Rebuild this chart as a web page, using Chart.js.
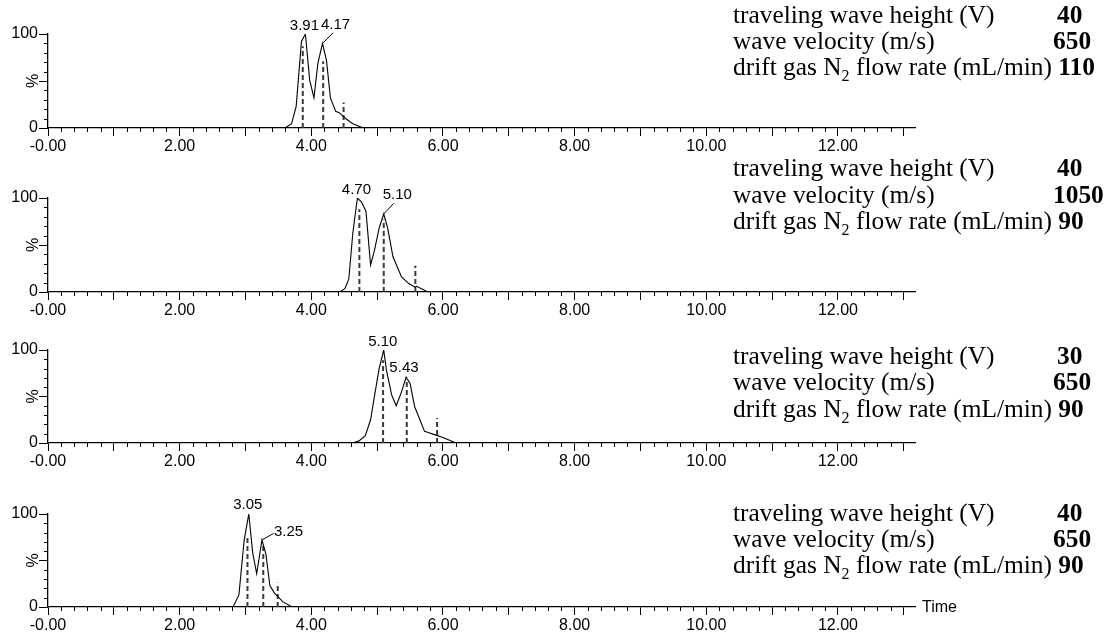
<!DOCTYPE html>
<html><head><meta charset="utf-8">
<script src="https://cdn.jsdelivr.net/npm/chart.js@4.4.1/dist/chart.umd.min.js"></script>
<style>
html,body{margin:0;padding:0;background:#fff;width:1104px;height:635px;overflow:hidden;position:relative}
canvas{position:absolute;left:0}
.row{position:absolute;left:733px;font-family:"Liberation Serif","Times New Roman",serif;font-size:25.4px;line-height:25px;color:#000;white-space:nowrap}
.val{position:absolute;font-family:"Liberation Serif","Times New Roman",serif;font-size:25.4px;line-height:25px;font-weight:bold;color:#000;white-space:nowrap}
.row sub{font-size:16px;line-height:0;vertical-align:baseline;position:relative;top:6px}
.row b{font-weight:bold}
</style></head><body>
<script>
// ---------- data ----------
const xTickLabels = ['-0.00','2.00','4.00','6.00','8.00','10.00','12.00'];
const yTickLabels = ['0','100'];

const time1 = [0, 3.60, 3.70, 3.77, 3.85, 3.91, 3.975, 4.04, 4.10, 4.17, 4.23, 4.29, 4.37, 4.43, 4.51, 4.63, 4.79, 13.1];
const int1  = [0, 0, 4.6, 23, 92, 100, 51, 32, 69, 90, 72, 32, 17.7, 16, 10.6, 4.6, 0, 0];
const markT1 = [3.87, 4.18, 4.49];
const markH1 = [87, 71, 27];
const peakT1 = [3.91, 4.17];
const peakH1 = [100, 90];

const time2 = [0, 4.43, 4.51, 4.57, 4.63, 4.70, 4.76, 4.83, 4.90, 4.96, 5.03, 5.10, 5.16, 5.24, 5.37, 5.48, 5.57, 5.60, 5.77, 13.1];
const int2  = [0, 0, 3.6, 14, 62.5, 100, 96, 86, 28.6, 44.6, 68, 83, 68, 37.5, 16, 9, 5.4, 6, 0, 0];
const markT2 = [4.73, 5.10, 5.58];
const markH2 = [88, 77, 28];
const peakT2 = [4.70, 5.10];
const peakH2 = [100, 83];

const time3 = [0, 4.62, 4.72, 4.82, 4.90, 4.97, 5.03, 5.10, 5.14, 5.22, 5.29, 5.37, 5.44, 5.50, 5.57, 5.64, 5.72, 5.80, 5.87, 5.98, 6.20, 13.1];
const int3  = [0, 0, 2, 8, 25, 55, 80, 100, 78.6, 51.7, 40, 55, 71, 64, 39, 26.6, 12.5, 10.7, 9, 6.4, 0, 0];
const markT3 = [5.09, 5.45, 5.91];
const markH3 = [89, 68, 27];
const peakT3 = [5.10, 5.43];
const peakH3 = [100, 71];

const time4 = [0, 2.81, 2.90, 2.98, 3.05, 3.11, 3.17, 3.25, 3.31, 3.37, 3.44, 3.57, 3.71, 13.1];
const int4  = [0, 0, 13, 72, 100, 58, 36, 72, 57, 23, 15, 5.5, 0, 0];
const markT4 = [3.03, 3.27, 3.49];
const markH4 = [76, 66, 26];
const peakT4 = [3.05, 3.25];
const peakH4 = [100, 72];

const paramNames = ['traveling wave height (V)', 'wave velocity (m/s)', 'drift gas N<sub>2</sub> flow rate (mL/min)'];
const waveHeights = ['40', '40', '30', '40'];
const waveVelocities = ['650', '1050', '650', '650'];
const driftFlows = ['110', '90', '90', '90'];

// ---------- layout / style ----------
const X_MAX = 13.17;
const PAD_TOP = 30, AXIS_H = 30;
const panels = [
  {time: time1, val: int1, markT: markT1, markH: markH1, peakT: peakT1, peakH: peakH1, y100: 34, y0: 128, rows: [23, 49, 75],
   styles: [{dx: -1, dy: -8, align: 'center'}, {leader: [10.5, -10.5], dx: -1.5, dy: -19, align: 'left'}]},
  {time: time2, val: int2, markT: markT2, markH: markH2, peakT: peakT2, peakH: peakH2, y100: 198, y0: 292, rows: [176, 203, 229],
   styles: [{dx: -1, dy: -8, align: 'center'}, {leader: [10, -10.7], dx: -1, dy: -19, align: 'left'}]},
  {time: time3, val: int3, markT: markT3, markH: markH3, peakT: peakT3, peakH: peakH3, y100: 350, y0: 443, rows: [364, 390, 417],
   styles: [{dx: -1, dy: -8, align: 'center'}, {dx: -1.5, dy: -9, align: 'center'}]},
  {time: time4, val: int4, markT: markT4, markH: markH4, peakT: peakT4, peakH: peakH4, y100: 514, y0: 607, rows: [521, 547, 573],
   styles: [{dx: -1, dy: -9, align: 'center'}, {leader: [11.7, -6.7], dx: 12, dy: -8.5, align: 'left'}], timeLabel: true}
];

const SANS = '"Liberation Sans", Arial, sans-serif';

const decor = {
  id: 'decor',
  afterDraw(chart, args, opts) {
    const {ctx, chartArea: a} = chart;
    const x = chart.scales.x, y = chart.scales.y;
    ctx.save();
    ctx.strokeStyle = '#000';
    ctx.lineWidth = 1;
    ctx.beginPath();
    for (let i = 1; i * 0.2 <= X_MAX; i++) {
      const v = i * 0.2;
      if (Math.abs(v - Math.round(v)) < 1e-6) continue;
      const px = Math.round(x.getPixelForValue(v)) + 0.5;
      ctx.moveTo(px, a.bottom); ctx.lineTo(px, a.bottom + 4);
    }
    for (let v = 10; v < 100; v += 10) {
      if (v === 50) continue;
      const py = Math.round(y.getPixelForValue(v)) + 0.5;
      ctx.moveTo(a.left, py); ctx.lineTo(a.left - 4, py);
    }
    ctx.stroke();
    ctx.fillStyle = '#000';
    ctx.font = '16px ' + SANS;
    ctx.save();
    ctx.translate(34, (a.top + a.bottom) / 2);
    ctx.rotate(-Math.PI / 2);
    ctx.textAlign = 'center'; ctx.textBaseline = 'middle';
    ctx.fillText('%', 0, 0);
    ctx.restore();
    ctx.font = '15px ' + SANS;
    opts.peakT.forEach((t, i) => {
      const st = opts.styles[i];
      const px = x.getPixelForValue(t), py = y.getPixelForValue(opts.peakH[i]);
      if (st.leader) {
        ctx.beginPath(); ctx.moveTo(px, py); ctx.lineTo(px + st.leader[0], py + st.leader[1]); ctx.stroke();
      }
      ctx.textAlign = st.align; ctx.textBaseline = 'middle';
      ctx.fillText(t.toFixed(2), px + st.dx, py + st.dy);
    });
    if (opts.timeLabel) {
      ctx.font = '16px ' + SANS;
      ctx.textAlign = 'left'; ctx.textBaseline = 'middle';
      ctx.fillText('Time', a.right + 7, a.bottom + 1);
    }
    ctx.restore();
  }
};

panels.forEach((p, idx) => {
  const h = (p.y0 - p.y100) + PAD_TOP + AXIS_H;
  const cv = document.createElement('canvas');
  cv.width = 1104; cv.height = h;
  cv.style.top = (p.y100 - PAD_TOP) + 'px';
  cv.style.width = '1104px'; cv.style.height = h + 'px';
  document.body.appendChild(cv);

  const datasets = [{
    data: p.time.map((t, i) => ({x: t, y: p.val[i]})),
    borderColor: '#000', borderWidth: 1.1, pointRadius: 0, tension: 0, fill: false
  }];
  p.markT.forEach((t, i) => {
    datasets.push({
      data: [{x: t, y: 0}, {x: t, y: p.markH[i]}],
      borderColor: '#3a3a3a', borderWidth: 2, borderDash: [5, 3], pointRadius: 0, fill: false
    });
  });

  new Chart(cv, {
    type: 'line',
    data: {datasets},
    options: {
      responsive: false, animation: false, devicePixelRatio: 1,
      layout: {padding: {left: 0, right: 1104 - 915, top: PAD_TOP, bottom: 0}},
      plugins: {legend: {display: false}, tooltip: {enabled: false},
        decor: {peakT: p.peakT, peakH: p.peakH, styles: p.styles, timeLabel: !!p.timeLabel}},
      scales: {
        x: {
          type: 'linear', min: 0, max: X_MAX,
          afterFit(s) { s.height = AXIS_H; },
          ticks: {stepSize: 1, includeBounds: false, autoSkip: false, maxRotation: 0, minRotation: 0, padding: 1,
            color: '#000', font: {family: SANS, size: 16},
            callback: v => (Math.abs(v % 2) < 1e-9 ? (xTickLabels[Math.round(v / 2)] || '') : '')},
          grid: {display: true, drawOnChartArea: false, drawTicks: true, tickLength: 8, color: '#000', lineWidth: 1},
          border: {display: true, color: '#000', width: 1.3}
        },
        y: {
          type: 'linear', min: 0, max: 100,
          afterFit(s) { s.width = 48; },
          ticks: {stepSize: 50, padding: 1, color: '#000', font: {family: SANS, size: 16},
            callback: v => (v === 0 ? yTickLabels[0] : v === 100 ? yTickLabels[1] : '')},
          grid: {display: true, drawOnChartArea: false, drawTicks: true, tickLength: 9, color: '#000', lineWidth: 1},
          border: {display: true, color: '#000', width: 1.3}
        }
      }
    },
    plugins: [decor]
  });

  // parameter text block
  const vals = [waveHeights[idx], waveVelocities[idx], driftFlows[idx]];
  const valLeft = [1057, vals[1].length > 3 ? 1053 : 1053];
  p.rows.forEach((base, r) => {
    const d = document.createElement('div');
    d.className = 'row';
    d.style.top = (base - 21) + 'px';
    d.innerHTML = r === 2 ? paramNames[r] + ' <b>' + vals[r] + '</b>' : paramNames[r];
    document.body.appendChild(d);
    if (r < 2) {
      const v = document.createElement('div');
      v.className = 'val';
      v.style.top = (base - 21) + 'px';
      v.style.left = valLeft[r] + 'px';
      v.textContent = vals[r];
      document.body.appendChild(v);
    }
  });
});
</script>
</body></html>
